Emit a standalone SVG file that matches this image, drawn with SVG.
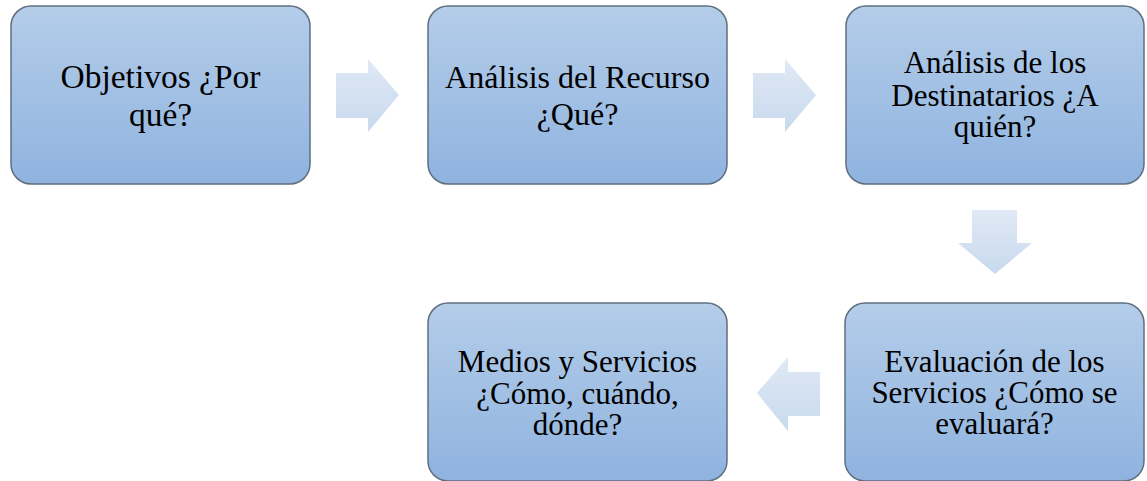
<svg xmlns="http://www.w3.org/2000/svg" width="1147" height="481" viewBox="0 0 1147 481">
  <defs>
    <linearGradient id="boxGrad" x1="0" y1="0" x2="0" y2="1">
      <stop offset="0" stop-color="#b4cde9"/>
      <stop offset="1" stop-color="#8fb3df"/>
    </linearGradient>
    <linearGradient id="arrGrad" x1="0" y1="0" x2="0" y2="1">
      <stop offset="0" stop-color="#e0e9f5"/>
      <stop offset="1" stop-color="#c8d9ee"/>
    </linearGradient>
    <style>
      .box { fill: url(#boxGrad); stroke: #5f6f80; stroke-width: 1.5; }
      .lbl { font-family: "Liberation Serif", "Times New Roman", serif; font-size: 31px; fill: #000; text-anchor: middle; }
      .arr { fill: url(#arrGrad); stroke: none; }
    </style>
  </defs>
  <rect width="1147" height="481" fill="#ffffff"/>

  <g id="connectors">
    <polygon class="arr" points="336,73 368,73 368,59 399,95 368,132 368,118 336,118"/>
    <polygon class="arr" points="753,73 785,73 785,59 816,95 785,132 785,118 753,118"/>
    <polygon class="arr" points="972,210 1017,210 1017,243 1032,243 995,274 958,243 972,243"/>
    <polygon class="arr" points="820,372 788,372 788,357 757,393 788,431 788,416 820,416"/>
  </g>

  <g id="node-objetivos">
    <rect class="box" x="11" y="6" width="299" height="178" rx="20" ry="20"/>
    <text class="lbl" style="font-size:33.5px" x="160.5" y="88">Objetivos ¿Por</text>
    <text class="lbl" style="font-size:33.5px" x="160.5" y="126">qué?</text>
  </g>

  <g id="node-recurso">
    <rect class="box" x="428" y="6" width="299" height="178" rx="20" ry="20"/>
    <text class="lbl" style="font-size:32px" x="577.5" y="88">Análisis del Recurso</text>
    <text class="lbl" style="font-size:32px" x="577.5" y="125">¿Qué?</text>
  </g>

  <g id="node-destinatarios">
    <rect class="box" x="846" y="6" width="298" height="178" rx="20" ry="20"/>
    <text class="lbl" x="995" y="73">Análisis de los</text>
    <text class="lbl" x="995" y="106">Destinatarios ¿A</text>
    <text class="lbl" x="995" y="137">quién?</text>
  </g>

  <g id="node-evaluacion">
    <rect class="box" x="845" y="303" width="299" height="178" rx="20" ry="20"/>
    <text class="lbl" x="994.5" y="372">Evaluación de los</text>
    <text class="lbl" x="994.5" y="403">Servicios ¿Cómo se</text>
    <text class="lbl" x="994.5" y="434">evaluará?</text>
  </g>

  <g id="node-medios">
    <rect class="box" x="428" y="303" width="299" height="178" rx="20" ry="20"/>
    <text class="lbl" x="577.5" y="372">Medios y Servicios</text>
    <text class="lbl" x="577.5" y="404">¿Cómo, cuándo,</text>
    <text class="lbl" x="577.5" y="435">dónde?</text>
  </g>
</svg>
